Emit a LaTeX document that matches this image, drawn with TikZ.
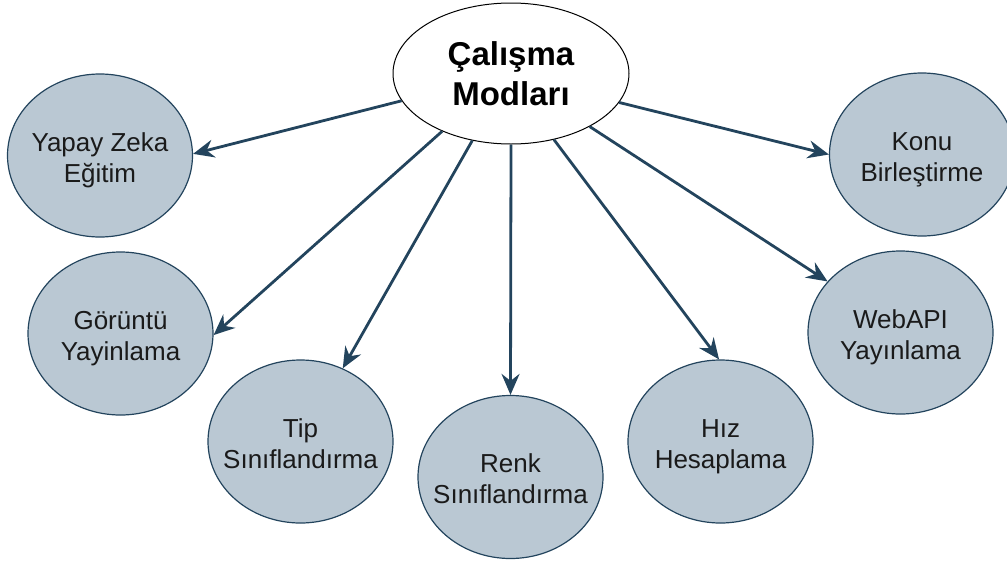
\documentclass[tikz,border=0pt]{standalone}
\usepackage{fontspec}
\setmainfont{Liberation Sans}
\usetikzlibrary{shapes.geometric,arrows.meta}
\definecolor{modefill}{HTML}{BAC8D3}
\definecolor{modeline}{HTML}{23445D}
\definecolor{modetext}{HTML}{1A1A1A}

\tikzset{
  hub/.style={ellipse, draw=black, line width=1pt, fill=white, inner sep=0pt,
    minimum width=236pt, minimum height=141pt, align=center, text=black,
    font=\fontsize{33}{40}\selectfont\bfseries},
  mode/.style={ellipse, draw=modeline, line width=1.2pt, fill=modefill,
    inner xsep=-25pt, inner ysep=0pt, text height=59pt, text depth=6pt,
    minimum width=185pt, minimum height=163pt, align=center, text=modetext,
    font=\fontsize{26}{31}\selectfont},
  link/.style={draw=modeline, line width=2.8pt,
    -{Stealth[length=21pt,width=18pt,inset=7pt]}}
}

\begin{document}
\begin{tikzpicture}[x=1pt,y=-1pt]
  \useasboundingbox (0,0) rectangle (1007,560);

  % central node
  \node[hub] (hub) at (511,73.5) {Çalışma\\Modları};

  % working modes
  \node[mode] (ai)    at (100,155.5)   {Yapay Zeka\\Eğitim};
  \node[mode] (video) at (120.5,333.5) {Görüntü\\Yayinlama};
  \node[mode] (type)  at (300.5,441.5) {Tip\\Sınıflandırma};
  \node[mode] (color) at (510.5,477)   {Renk\\Sınıflandırma};
  \node[mode] (speed) at (720.5,441.5) {Hız\\Hesaplama};
  \node[mode] (web)   at (900.5,332.5) {WebAPI\\Yayınlama};
  \node[mode] (topic) at (922,154.5)   {Konu\\Birleştirme};

  % connectors from the hub to each mode
  \draw[link] (hub.194.4) -- (ai.1);
  \draw[link] (hub.220.9) -- (video.-1);
  \draw[link] (hub.240.7) -- (type.60.2);
  \draw[link] (hub.270)   -- (color.90);
  \draw[link] (hub.303.9) -- (speed.91);
  \draw[link] (hub.326.1) -- (web.145.6);
  \draw[link] (hub.345.6) -- (topic.180);
\end{tikzpicture}
\end{document}
